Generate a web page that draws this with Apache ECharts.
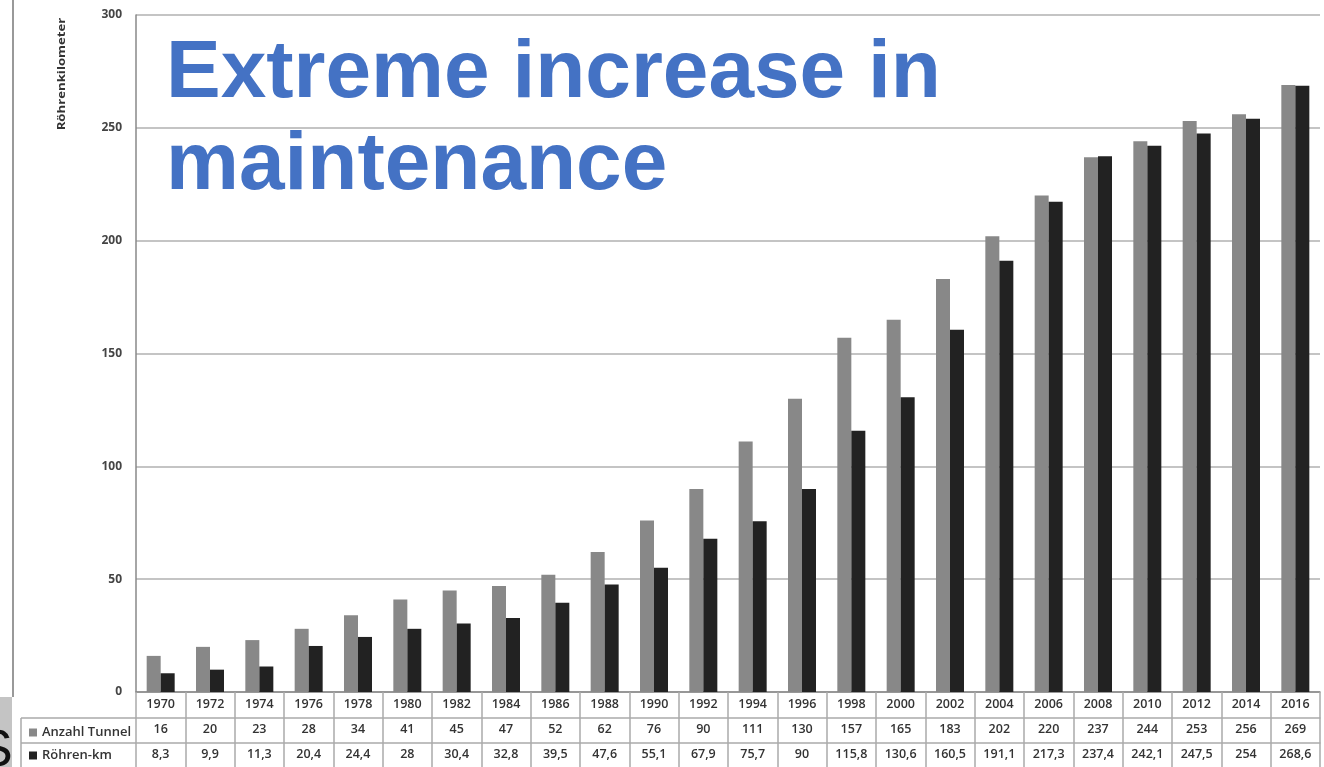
<!DOCTYPE html>
<html>
<head>
<meta charset="utf-8">
<script src="https://cdn.jsdelivr.net/npm/echarts@6/dist/echarts.min.js"></script>
<style>
html,body{margin:0;padding:0;background:#fff;}
#main{width:1324px;height:767px;}
</style>
</head>
<body>
<div id="main"></div>
<script>
const years = ['1970','1972','1974','1976','1978','1980','1982','1984','1986','1988','1990','1992','1994','1996','1998','2000','2002','2004','2006','2008','2010','2012','2014','2016'];
const anzahlTunnel = [16,20,23,28,34,41,45,47,52,62,76,90,111,130,157,165,183,202,220,237,244,253,256,269];
const roehrenKm = [8.3,9.9,11.3,20.4,24.4,28,30.4,32.8,39.5,47.6,55.1,67.9,75.7,90,115.8,130.6,160.5,191.1,217.3,237.4,242.1,247.5,254,268.6];
const yTicks = [0,50,100,150,200,250,300];
const seriesNames = ['Anzahl Tunnel','Röhren-km'];
const titleText = 'Extreme increase in\nmaintenance';
const yName = 'Röhrenkilometer';

const fmt = v => String(v).replace('.', ',');
const tableFont = {fontFamily:'Open Sans', fontSize:12.5, color:'#333', fontWeight:600};
const lineCol = '#aaaaaa';

const chart = echarts.init(document.getElementById('main'), null, {renderer:'canvas'});
chart.setOption({
  animation:false,
  backgroundColor:'#fff',
  title:{
    text:titleText, left:161, top:23,
    textStyle:{fontFamily:'Liberation Sans', fontWeight:'bold', fontSize:82, lineHeight:92, color:'#4472C4'}
  },
  legend:{
    orient:'vertical', left:24, top:721, itemWidth:8, itemHeight:8, itemGap:10,
    icon:'rect', selectedMode:false,
    textStyle:{fontFamily:'Open Sans', fontSize:13, color:'#333', fontWeight:600},
    data:seriesNames
  },
  grid:{left:136, right:4, top:15, bottom:75, containLabel:false},
  xAxis:[
    {type:'category', data:years, position:'bottom',
     axisLine:{show:true, lineStyle:{color:'#888', width:1.5}},
     axisTick:{show:true, alignWithLabel:false, length:75, interval:0, lineStyle:{color:lineCol, width:1.5}},
     axisLabel:{interval:0, margin:6, ...tableFont}},
    {type:'category', data:years, position:'bottom', offset:26,
     axisLine:{show:true, lineStyle:{color:lineCol, width:1.5}},
     axisTick:{show:false},
     axisLabel:{interval:0, margin:5, formatter:(v,i)=>String(anzahlTunnel[i]), ...tableFont}},
    {type:'category', data:years, position:'bottom', offset:51,
     axisLine:{show:true, lineStyle:{color:lineCol, width:1.5}},
     axisTick:{show:false},
     axisLabel:{interval:0, margin:5, formatter:(v,i)=>fmt(roehrenKm[i]), ...tableFont}}
  ],
  yAxis:{
    type:'value', min:yTicks[0], max:yTicks[yTicks.length-1], interval:50,
    axisLine:{show:true, lineStyle:{color:'#888', width:1.5}},
    axisTick:{show:false},
    axisLabel:{margin:14, fontFamily:'Open Sans', fontSize:12, fontWeight:700, color:'#444'},
    splitLine:{show:true, lineStyle:{color:'#b0b0b0', width:1.5}}
  },
  series:[
    {name:seriesNames[0], type:'bar', xAxisIndex:0, data:anzahlTunnel, barWidth:14, barGap:'0%',
     itemStyle:{color:'#888888'}},
    {name:seriesNames[1], type:'bar', xAxisIndex:0, data:roehrenKm, barWidth:14, barGap:'0%',
     itemStyle:{color:'#222222'}}
  ],
  graphic:[
    {type:'line', shape:{x1:13, y1:0, x2:13, y2:697}, style:{stroke:'#999', lineWidth:2}},
    {type:'rect', shape:{x:0, y:697, width:12, height:70}, style:{fill:'#c4c4c4'}},
    {type:'text', x:-22, y:726, style:{text:'S', font:'52px "Liberation Sans"', fill:'#111'}},
    {type:'line', shape:{x1:21, y1:718, x2:136, y2:718}, style:{stroke:lineCol, lineWidth:1.5}},
    {type:'line', shape:{x1:21, y1:743, x2:136, y2:743}, style:{stroke:lineCol, lineWidth:1.5}},
    {type:'line', shape:{x1:21, y1:718, x2:21, y2:767}, style:{stroke:lineCol, lineWidth:1.5}},
    {type:'text', x:62, y:74, rotation:Math.PI/2, scaleX:1.2,
     style:{text:yName, font:'bold 11px "Open Sans"', fill:'#333', align:'center', verticalAlign:'middle'}}
  ]
});
</script>
</body>
</html>
